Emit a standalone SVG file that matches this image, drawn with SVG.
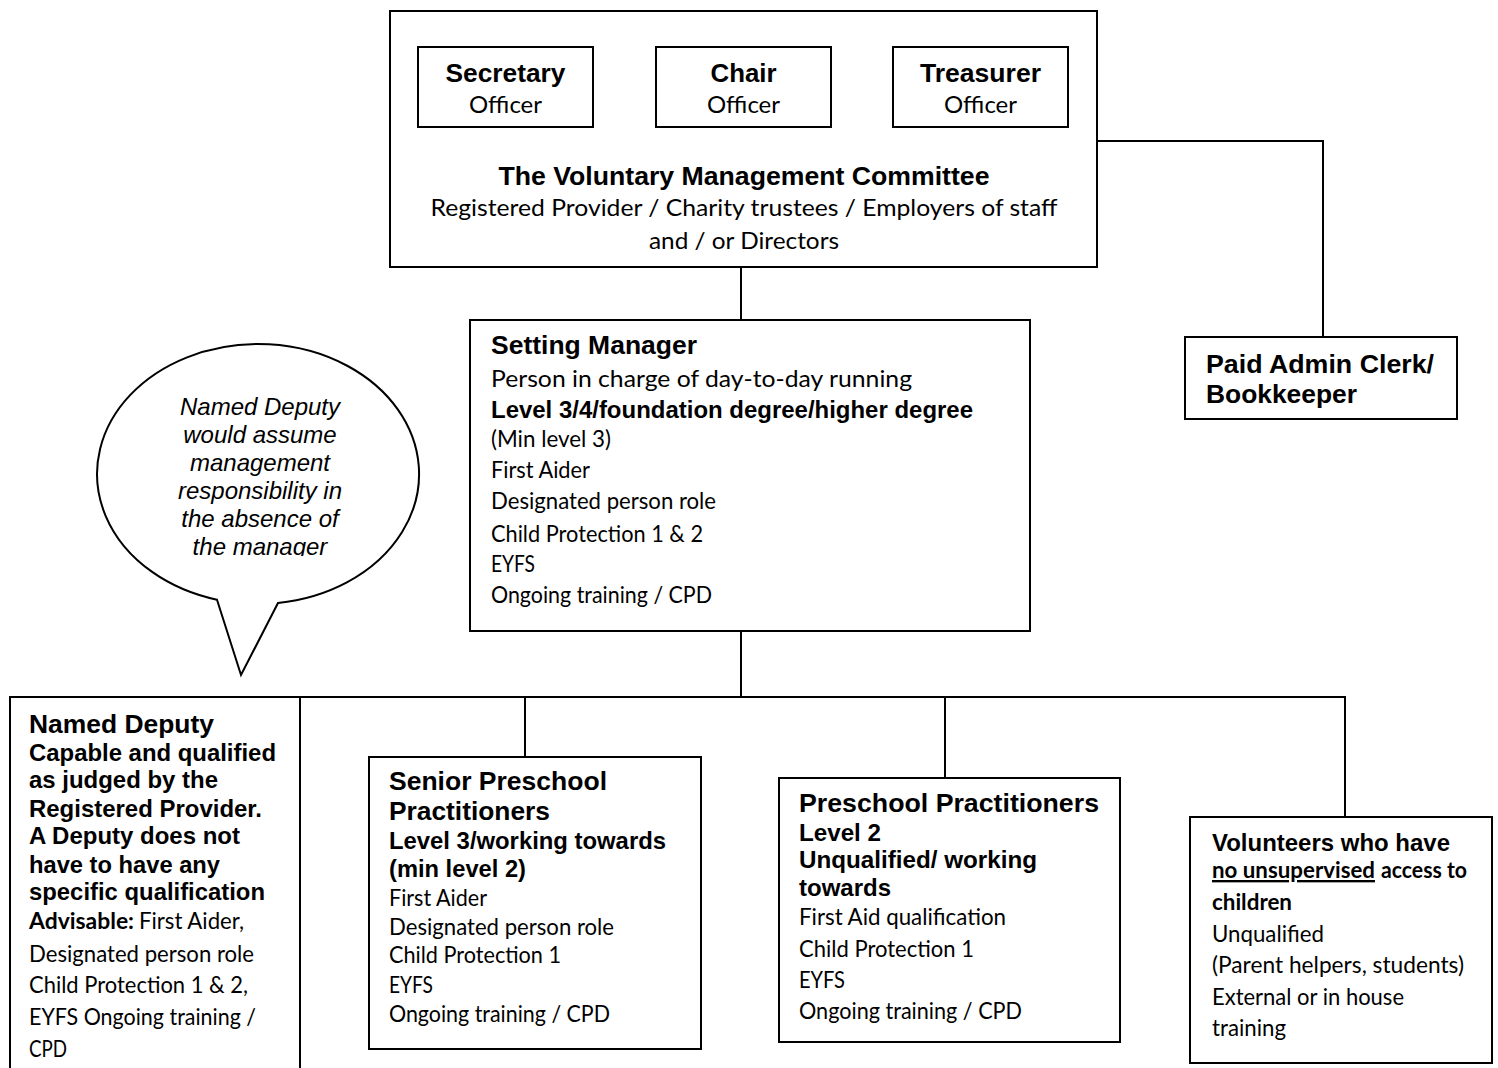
<svg xmlns="http://www.w3.org/2000/svg" width="1498" height="1068" viewBox="0 0 1498 1068">
<style>
  .box{fill:#fff;stroke:#000;stroke-width:2}
  .conn line,.conn polyline{stroke:#000;stroke-width:2;fill:none}
  text{fill:#000}
  .hb{font-family:"Liberation Sans",Arial,sans-serif;font-weight:bold;font-size:26.5px}
  .hb2{font-family:"Liberation Sans",Arial,sans-serif;font-weight:bold;font-size:24px}
  .bd{font-family:Lato,"Open Sans",sans-serif;font-size:23.5px}
  .cb{font-family:Lato,"Open Sans",sans-serif;font-weight:bold;font-size:23.5px}
  .it{font-family:"Liberation Sans",Arial,sans-serif;font-style:italic;font-size:24px}
  .mid{text-anchor:middle}
  .ul{text-decoration:underline}
</style>
<defs>
  <clipPath id="bubbleClip"><rect x="100" y="390" width="300" height="166"/></clipPath>
</defs>

<g id="connectors" class="conn">
  <line x1="741" y1="267" x2="741" y2="320"/>
  <polyline points="1097,141 1323,141 1323,337"/>
  <line x1="741" y1="631" x2="741" y2="697"/>
  <line x1="10" y1="697" x2="1346" y2="697"/>
  <line x1="525" y1="697" x2="525" y2="757"/>
  <line x1="945" y1="697" x2="945" y2="778"/>
  <line x1="1345" y1="697" x2="1345" y2="817"/>
</g>

<g id="committee">
  <rect class="box" x="390" y="11" width="707" height="256"/>
  <text class="hb mid" x="744" y="185" textLength="491" lengthAdjust="spacingAndGlyphs">The Voluntary Management Committee</text>
  <text class="bd mid" x="744" y="216" textLength="627" lengthAdjust="spacingAndGlyphs">Registered Provider / Charity trustees / Employers of staff</text>
  <text class="bd mid" x="744" y="249" textLength="190" lengthAdjust="spacingAndGlyphs">and / or Directors</text>
</g>

<g id="secretary">
  <rect class="box" x="418" y="47" width="175" height="80"/>
  <text class="hb mid" x="505.5" y="82" textLength="120" lengthAdjust="spacingAndGlyphs">Secretary</text>
  <text class="bd mid" x="505.5" y="113" textLength="73" lengthAdjust="spacingAndGlyphs">Officer</text>
</g>
<g id="chair">
  <rect class="box" x="656" y="47" width="175" height="80"/>
  <text class="hb mid" x="743.5" y="82" textLength="66" lengthAdjust="spacingAndGlyphs">Chair</text>
  <text class="bd mid" x="743.5" y="113" textLength="73" lengthAdjust="spacingAndGlyphs">Officer</text>
</g>
<g id="treasurer">
  <rect class="box" x="893" y="47" width="175" height="80"/>
  <text class="hb mid" x="980.5" y="82" textLength="121" lengthAdjust="spacingAndGlyphs">Treasurer</text>
  <text class="bd mid" x="980.5" y="113" textLength="73" lengthAdjust="spacingAndGlyphs">Officer</text>
</g>

<g id="admin-clerk">
  <rect class="box" x="1185" y="337" width="272" height="82"/>
  <text class="hb" x="1206" y="373" textLength="228" lengthAdjust="spacingAndGlyphs">Paid Admin Clerk/</text>
  <text class="hb" x="1206" y="403" textLength="151" lengthAdjust="spacingAndGlyphs">Bookkeeper</text>
</g>

<g id="setting-manager">
  <rect class="box" x="470" y="320" width="560" height="311"/>
  <text class="hb" x="491" y="354" textLength="206" lengthAdjust="spacingAndGlyphs">Setting Manager</text>
  <text class="bd" x="491" y="387" textLength="421" lengthAdjust="spacingAndGlyphs">Person in charge of day-to-day running</text>
  <text class="hb2" x="491" y="418" textLength="482" lengthAdjust="spacingAndGlyphs">Level 3/4/foundation degree/higher degree</text>
  <text class="bd" x="491" y="447" textLength="120" lengthAdjust="spacingAndGlyphs">(Min level 3)</text>
  <text class="bd" x="491" y="478" textLength="99" lengthAdjust="spacingAndGlyphs">First Aider</text>
  <text class="bd" x="491" y="509" textLength="225" lengthAdjust="spacingAndGlyphs">Designated person role</text>
  <text class="bd" x="491" y="542" textLength="212" lengthAdjust="spacingAndGlyphs">Child Protection 1 &amp; 2</text>
  <text class="bd" x="491" y="572" textLength="44" lengthAdjust="spacingAndGlyphs">EYFS</text>
  <text class="bd" x="491" y="603" textLength="221" lengthAdjust="spacingAndGlyphs">Ongoing training / CPD</text>
</g>

<g id="speech-bubble">
  <path class="box" d="M 217 599.7 L 241 675 L 278 603 A 161 130 0 1 0 217 599.7 Z"/>
  <g clip-path="url(#bubbleClip)">
    <text class="it mid" x="260" y="415">Named Deputy</text>
    <text class="it mid" x="260" y="443">would assume</text>
    <text class="it mid" x="260" y="471">management</text>
    <text class="it mid" x="260" y="499">responsibility in</text>
    <text class="it mid" x="260" y="527">the absence of</text>
    <text class="it mid" x="260" y="555">the manager</text>
  </g>
</g>

<g id="named-deputy">
  <rect class="box" x="10" y="697" width="290" height="390"/>
  <text class="hb" x="29" y="733" textLength="185" lengthAdjust="spacingAndGlyphs">Named Deputy</text>
  <text class="hb2" x="29" y="761" textLength="247" lengthAdjust="spacingAndGlyphs">Capable and qualified</text>
  <text class="hb2" x="29" y="788" textLength="189" lengthAdjust="spacingAndGlyphs">as judged by the</text>
  <text class="hb2" x="29" y="817" textLength="233" lengthAdjust="spacingAndGlyphs">Registered Provider.</text>
  <text class="hb2" x="29" y="844" textLength="211" lengthAdjust="spacingAndGlyphs">A Deputy does not</text>
  <text class="hb2" x="29" y="873" textLength="191" lengthAdjust="spacingAndGlyphs">have to have any</text>
  <text class="hb2" x="29" y="900" textLength="236" lengthAdjust="spacingAndGlyphs">specific qualification</text>
  <text class="cb" x="29" y="929" textLength="105" lengthAdjust="spacingAndGlyphs">Advisable:</text>
  <text class="bd" x="139" y="929" textLength="105" lengthAdjust="spacingAndGlyphs">First Aider,</text>
  <text class="bd" x="29" y="962" textLength="225" lengthAdjust="spacingAndGlyphs">Designated person role</text>
  <text class="bd" x="29" y="993" textLength="219" lengthAdjust="spacingAndGlyphs">Child Protection 1 &amp; 2,</text>
  <text class="bd" x="29" y="1025" textLength="227" lengthAdjust="spacingAndGlyphs">EYFS Ongoing training /</text>
  <text class="bd" x="29" y="1057" textLength="38" lengthAdjust="spacingAndGlyphs">CPD</text>
</g>

<g id="senior-practitioners">
  <rect class="box" x="369" y="757" width="332" height="292"/>
  <text class="hb" x="389" y="790" textLength="218" lengthAdjust="spacingAndGlyphs">Senior Preschool</text>
  <text class="hb" x="389" y="820" textLength="161" lengthAdjust="spacingAndGlyphs">Practitioners</text>
  <text class="hb2" x="389" y="849" textLength="277" lengthAdjust="spacingAndGlyphs">Level 3/working towards</text>
  <text class="hb2" x="389" y="877" textLength="137" lengthAdjust="spacingAndGlyphs">(min level 2)</text>
  <text class="bd" x="389" y="906" textLength="98" lengthAdjust="spacingAndGlyphs">First Aider</text>
  <text class="bd" x="389" y="935" textLength="225" lengthAdjust="spacingAndGlyphs">Designated person role</text>
  <text class="bd" x="389" y="963" textLength="172" lengthAdjust="spacingAndGlyphs">Child Protection 1</text>
  <text class="bd" x="389" y="993" textLength="44" lengthAdjust="spacingAndGlyphs">EYFS</text>
  <text class="bd" x="389" y="1022" textLength="221" lengthAdjust="spacingAndGlyphs">Ongoing training / CPD</text>
</g>

<g id="preschool-practitioners">
  <rect class="box" x="779" y="778" width="341" height="264"/>
  <text class="hb" x="799" y="812" textLength="300" lengthAdjust="spacingAndGlyphs">Preschool Practitioners</text>
  <text class="hb2" x="799" y="841" textLength="82" lengthAdjust="spacingAndGlyphs">Level 2</text>
  <text class="hb2" x="799" y="868" textLength="238" lengthAdjust="spacingAndGlyphs">Unqualified/ working</text>
  <text class="hb2" x="799" y="896" textLength="92" lengthAdjust="spacingAndGlyphs">towards</text>
  <text class="bd" x="799" y="925" textLength="207" lengthAdjust="spacingAndGlyphs">First Aid qualification</text>
  <text class="bd" x="799" y="957" textLength="175" lengthAdjust="spacingAndGlyphs">Child Protection 1</text>
  <text class="bd" x="799" y="988" textLength="46" lengthAdjust="spacingAndGlyphs">EYFS</text>
  <text class="bd" x="799" y="1019" textLength="223" lengthAdjust="spacingAndGlyphs">Ongoing training / CPD</text>
</g>

<g id="volunteers">
  <rect class="box" x="1190" y="817" width="302" height="246"/>
  <text class="hb2" x="1212" y="851" textLength="238" lengthAdjust="spacingAndGlyphs">Volunteers who have</text>
  <text class="cb ul" x="1212" y="878" textLength="163" lengthAdjust="spacingAndGlyphs">no unsupervised</text>
  <text class="cb" x="1381" y="878" textLength="86" lengthAdjust="spacingAndGlyphs">access to</text>
  <text class="cb" x="1212" y="910" textLength="80" lengthAdjust="spacingAndGlyphs">children</text>
  <text class="bd" x="1212" y="942" textLength="112" lengthAdjust="spacingAndGlyphs">Unqualified</text>
  <text class="bd" x="1212" y="973" textLength="252" lengthAdjust="spacingAndGlyphs">(Parent helpers, students)</text>
  <text class="bd" x="1212" y="1005" textLength="192" lengthAdjust="spacingAndGlyphs">External or in house</text>
  <text class="bd" x="1212" y="1036" textLength="74" lengthAdjust="spacingAndGlyphs">training</text>
</g>
</svg>
